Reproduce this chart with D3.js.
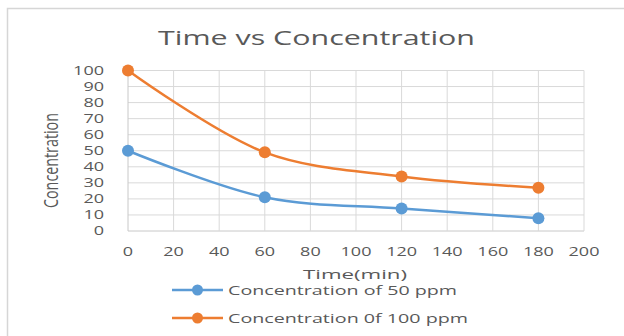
<!DOCTYPE html>
<html><head><meta charset="utf-8">
<script src="https://cdn.jsdelivr.net/npm/d3@7"></script>
<style>body{margin:0;background:#fff}svg{display:block}text{font-family:"Open Sans",sans-serif;fill:#595959}</style>
</head><body>
<svg id="c" width="624" height="336"></svg>
<script>
const times = [0, 60, 120, 180];
const conc50 = [50, 21, 14, 8];
const conc100 = [100, 49, 34, 27];
const seriesNames = ["Concentration of 50 ppm", "Concentration 0f 100 ppm"];
const seriesColors = ["#5B9BD5", "#ED7D31"];
const xTicks = [0,20,40,60,80,100,120,140,160,180,200];
const yTicks = [0,10,20,30,40,50,60,70,80,90,100];

const svg = d3.select("#c");
const x = d3.scaleLinear().domain([0,200]).range([128,584]);
const y = d3.scaleLinear().domain([0,100]).range([231,70.5]);

// outer border
svg.append("path").attr("d","M7.5,336 V8.5 H624").attr("fill","none").attr("stroke","#d6d6d6").attr("stroke-width",1.5);

// title
svg.append("text").attr("x",158).attr("y",44.5).attr("font-size",20)
  .attr("textLength",317).attr("lengthAdjust","spacingAndGlyphs").text("Time vs Concentration");

// grid
const g = svg.append("g");
g.selectAll(".hg").data(yTicks).join("line").attr("x1",x(0)).attr("x2",x(200))
  .attr("y1",d=>y(d)).attr("y2",d=>y(d)).attr("stroke",d=>d===0?"#c8c8c8":"#d9d9d9").attr("stroke-width",1);
g.selectAll(".vg").data(xTicks).join("line").attr("y1",y(0)).attr("y2",y(100))
  .attr("x1",d=>x(d)).attr("x2",d=>x(d)).attr("stroke",d=>d===0?"#c8c8c8":"#d9d9d9").attr("stroke-width",1);

// y tick labels
svg.selectAll(".yt").data(yTicks).join("text").attr("text-anchor","end")
  .attr("x",104).attr("y",d=>y(d)+4.4).attr("font-size",12.2)
  .attr("textLength",d=>String(d).length*10.3).attr("lengthAdjust","spacingAndGlyphs").text(d=>d);
// x tick labels
svg.selectAll(".xt").data(xTicks).join("text").attr("text-anchor","middle")
  .attr("x",d=>x(d)).attr("y",256).attr("font-size",12.5)
  .attr("textLength",d=>String(d).length*10.3).attr("lengthAdjust","spacingAndGlyphs").text(d=>d);

// axis titles
svg.append("text").attr("transform","translate(58,160.5) rotate(-90)").attr("text-anchor","middle")
  .attr("font-size",20).attr("textLength",95).attr("lengthAdjust","spacingAndGlyphs").text("Concentration");
svg.append("text").attr("x",355).attr("y",278.5).attr("text-anchor","middle").attr("font-size",13)
  .attr("textLength",104).attr("lengthAdjust","spacingAndGlyphs").text("Time(min)");

// series
const line = d3.line().x(d=>x(d[0])).y(d=>y(d[1])).curve(d3.curveCatmullRom.alpha(0.5));
[conc50, conc100].forEach((vals,i)=>{
  const pts = times.map((t,j)=>[t,vals[j]]);
  svg.append("path").datum(pts).attr("d",line).attr("fill","none")
    .attr("stroke",seriesColors[i]).attr("stroke-width",2.5);
  svg.selectAll(".m"+i).data(pts).join("circle").attr("cx",d=>x(d[0])).attr("cy",d=>y(d[1]))
    .attr("r",6).attr("fill",seriesColors[i]);
});

// legend
const legY = [290, 318];
const legW = [229, 240];
seriesNames.forEach((n,i)=>{
  svg.append("line").attr("x1",172).attr("x2",223).attr("y1",legY[i]).attr("y2",legY[i])
    .attr("stroke",seriesColors[i]).attr("stroke-width",2.5);
  svg.append("circle").attr("cx",197.5).attr("cy",legY[i]).attr("r",5.5).attr("fill",seriesColors[i]);
  svg.append("text").attr("x",228).attr("y",legY[i]+5).attr("font-size",13.5)
    .attr("textLength",legW[i]).attr("lengthAdjust","spacingAndGlyphs").text(n);
});
</script>
</body></html>
